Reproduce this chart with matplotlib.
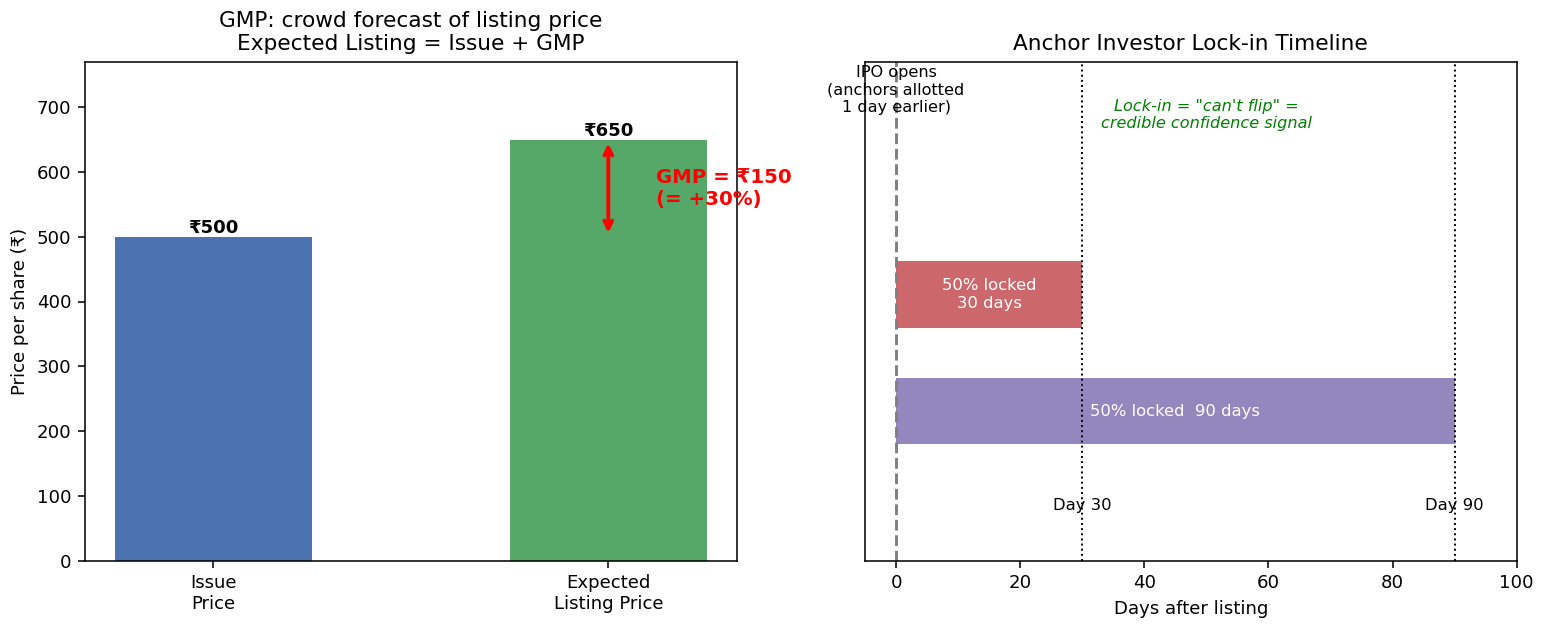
import matplotlib
matplotlib.use("Agg")
import matplotlib.pyplot as plt

# Left panel data
price_cats = ["Issue\nPrice", "Expected\nListing Price"]
price_vals = [500, 650]
price_labels = ["₹500", "₹650"]
gmp_text = "GMP = ₹150\n(= +30%)"

# Right panel data
lock_labels = ["50% locked  90 days", "50% locked\n30 days"]
lock_days = [90, 30]
lock_ypos = [0.9, 1.6]
day_marks = [30, 90]
day_mark_labels = ["Day 30", "Day 90"]

fig, (ax1, ax2) = plt.subplots(1, 2, figsize=(1546 / 140, 630 / 140), dpi=140)
fig.subplots_adjust(left=0.055, right=0.981, top=0.902, bottom=0.11, wspace=0.197)

TICK = 9.3

# ---- Left panel ----
xpos = list(range(len(price_cats)))
ax1.bar(xpos, price_vals, width=0.5, color=["#4C72B0", "#55A868"])
for x, v, lab in zip(xpos, price_vals, price_labels):
    ax1.text(x, v, lab, ha="center", va="bottom", fontsize=9.3, fontweight="bold")
ax1.annotate("", xy=(1, price_vals[1]), xytext=(1, price_vals[0]),
             arrowprops=dict(arrowstyle="<->", color="red", lw=2))
ax1.text(1.12, 575, gmp_text, color="red", fontsize=10.2, fontweight="bold",
         ha="left", va="center")
ax1.set_xticks(xpos)
ax1.set_xticklabels(price_cats, fontsize=TICK)
ax1.tick_params(axis="y", labelsize=TICK)
ax1.set_ylim(0, 770)
ax1.set_ylabel("Price per share (₹)", fontsize=TICK)
ax1.set_title("GMP: crowd forecast of listing price\nExpected Listing = Issue + GMP", fontsize=11.1)

# ---- Right panel ----
colors = ["#8172B2", "#C44E52"]
for y, d, lab, c in zip(lock_ypos, lock_days, lock_labels, colors):
    ax2.barh(y, d, left=0, height=0.4, color=c, alpha=0.85)
    ax2.text(d / 2, y, lab, ha="center", va="center", color="white", fontsize=8.4)
ax2.axvline(0, color="gray", linestyle="--", lw=1.5)
for d, lab in zip(day_marks, day_mark_labels):
    ax2.axvline(d, color="black", linestyle=":", lw=1)
    ax2.text(d, 0.33, lab, ha="center", va="center", fontsize=8.4)
ax2.text(0, 2.83, "IPO opens\n(anchors allotted\n1 day earlier)", ha="center",
         va="center", fontsize=8.3)
ax2.text(50, 2.68, "Lock-in = \"can't flip\" =\ncredible confidence signal",
         ha="center", va="center", fontsize=8.3, color="green", style="italic")
ax2.set_xlim(-5, 100)
ax2.set_ylim(0, 3)
ax2.set_yticks([])
ax2.tick_params(axis="x", labelsize=TICK)
ax2.set_xlabel("Days after listing", fontsize=TICK)
ax2.set_title("Anchor Investor Lock-in Timeline", fontsize=11.1)

fig.savefig("out.png", dpi=140)
